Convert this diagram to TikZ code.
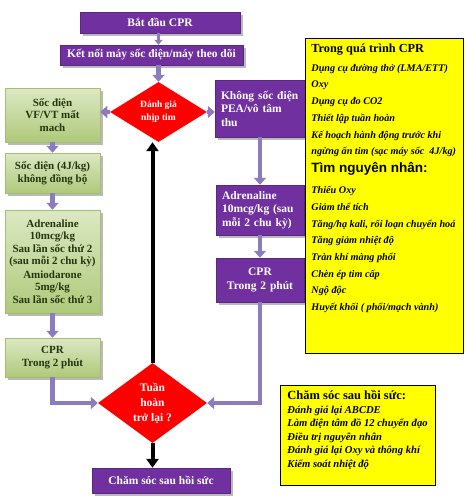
\documentclass[tikz,border=0pt]{standalone}
\usepackage{fontspec}
\setmainfont{Liberation Serif}
\newfontfamily\sansfnt{Liberation Sans}
\usetikzlibrary{arrows.meta,shapes.geometric,shadows}
\definecolor{boxpurple}{HTML}{7030A0}
\definecolor{arrowpurple}{HTML}{8C7BBF}
\definecolor{greentop}{HTML}{DCE8C3}
\definecolor{greenbottom}{HTML}{AFC97A}
\definecolor{greenedge}{HTML}{A3BF73}
\definecolor{greentext}{HTML}{23370F}
\definecolor{notefill}{HTML}{FFFF00}
\definecolor{decisionred}{HTML}{FF0000}
\newcommand{\boxfont}{\fontsize{11.5}{13.5}\selectfont\bfseries}
\newcommand{\greenfont}{\fontsize{11}{12.5}\selectfont\bfseries}
\newcommand{\listfont}{\fontsize{10.2}{16.7}\selectfont\bfseries\itshape}
\newcommand{\carefont}{\fontsize{10.6}{13.6}\selectfont\bfseries\itshape}
\tikzset{
  boxshadow/.style={drop shadow={shadow xshift=2.5pt, shadow yshift=-2.5pt, fill=black!45, opacity=0.6}},
  purplebox/.style={fill=boxpurple, draw=boxpurple!80!black, line width=0.4pt, text=white,
    font=\boxfont, inner sep=0pt, boxshadow},
  greenbox/.style={top color=greentop, bottom color=greenbottom, draw=greenedge, line width=0.5pt,
    text=greentext, font=\greenfont, align=center, inner sep=0pt, boxshadow},
  decision/.style={diamond, fill=decisionred, text=white, align=center, inner sep=0pt},
  notebox/.style={fill=notefill, draw=black, line width=0.9pt, inner xsep=6pt, inner ysep=5pt},
  flowarrow/.style={draw=arrowpurple, line width=4.5pt, -{Triangle[length=7pt,width=12pt]}},
  backarrow/.style={draw=black, line width=4pt, -{Triangle[length=9pt,width=12pt]}}
}
\begin{document}
\begin{tikzpicture}[x=1pt, y=-1pt]
  \useasboundingbox (0,0) rectangle (466,504);

  \node[purplebox, minimum width=160pt, minimum height=21pt] (start) at (160,22.5) {Bắt đầu CPR};
  \node[purplebox, minimum width=183pt, minimum height=20pt] (monitor) at (151.5,55) {Kết nối máy sốc điện/máy theo dõi};
  \node[decision, font=\fontsize{9.5}{13}\selectfont\bfseries, minimum width=97pt, minimum height=60pt]
    (rhythm) at (158.5,112) {Đánh giá\\nhịp tim};

  \node[greenbox, minimum width=95pt, minimum height=54pt] (shockable) at (52.5,115) {Sốc điện\\VF/VT mất\\mach};
  \node[greenbox, minimum width=95pt, minimum height=40pt] (defib) at (52.5,173) {Sốc điện (4J/kg)\\không đồng bộ};
  \node[greenbox, minimum width=95pt, minimum height=103pt] (drugs) at (52.5,261.5)
    {Adrenaline\\10mcg/kg\\Sau lần sốc thứ 2\\(sau mỗi 2 chu kỳ)\\[1pt]Amiodarone\\5mg/kg\\Sau lần sốc thứ 3};
  \node[greenbox, minimum width=95pt, minimum height=39pt] (cprleft) at (52.5,357.5) {CPR\\Trong 2 phút};

  \node[purplebox, minimum height=57pt, text width=78pt, inner xsep=6pt, align=left]
    (nonshock) at (260,108.5) {Không sốc điện\\PEA/vô tâm\\thu};
  \node[purplebox, minimum height=50pt, text width=76pt, inner xsep=6pt, align=left]
    (adrright) at (260,210) {Adrenaline\\10mcg/kg (sau\\mỗi 2 chu kỳ)};
  \node[purplebox, minimum height=44pt, text width=76pt, inner xsep=6pt, align=center]
    (cprright) at (260,280) {CPR\\Trong 2 phút};

  \node[decision, font=\fontsize{11.5}{15}\selectfont\bfseries, minimum width=109pt, minimum height=80pt]
    (rosc) at (152.5,403) {Tuần\\hoàn\\trở lại ?};
  \node[purplebox, minimum width=138pt, minimum height=25pt] (post) at (161,480.5) {Chăm sóc sau hồi sức};

  \node[notebox, anchor=north west] (during) at (305,38)
    {\parbox[c][305pt][t]{146pt}{\raggedright
      {\fontsize{12.3}{14}\selectfont\bfseries Trong quá trình CPR}\par\vspace{2.5pt}
      {\listfont Dụng cụ đường thở (LMA/ETT)\\Oxy\\Dụng cụ đo CO2\\Thiết lập tuần hoàn\\
        Kế hoạch hành động trước khi\\\mbox{ngừng ấn tim (sạc máy sốc~ 4J/kg)}\par}\vspace{5pt}
      {\sansfnt\fontsize{13.5}{16}\selectfont\bfseries Tìm nguyên nhân:}\par\vspace{4pt}
      {\listfont Thiếu Oxy\\Giảm thể tích\\\mbox{Tăng/hạ kali, rối loạn chuyển hoá}\\Tăng giảm nhiệt độ\\
        Tràn khí màng phổi\\Chèn ép tim cấp\\Ngộ độc\\Huyết khối ( phổi/mạch vành)\par}}};
  \node[notebox, anchor=north west, inner xsep=7pt] (postcare) at (280,385)
    {\parbox[c][90pt][t]{141pt}{\raggedright
      {\fontsize{12.5}{14}\selectfont\bfseries Chăm sóc sau hồi sức:}\par
      {\carefont Đánh giá lại ABCDE\\Làm điện tâm đồ 12 chuyển đạo\\Điều trị nguyên nhân\\
        Đánh giá lại Oxy và thông khí\\Kiểm soát nhiệt độ\par}}};

  \draw[flowarrow, line width=3pt, -{Triangle[length=5pt,width=8pt]}]
    (start.south -| rhythm.north) -- (monitor.north -| rhythm.north);
  \draw[flowarrow] (monitor.south -| rhythm.north) -- (rhythm.north);
  \draw[flowarrow] (rhythm.west) -- (rhythm.west -| shockable.east);
  \draw[flowarrow] (rhythm.east) -- (rhythm.east -| nonshock.west);
  \draw[flowarrow] (shockable.south) -- (defib.north);
  \draw[flowarrow] (defib.south) -- (drugs.north);
  \draw[flowarrow] (drugs.south) -- (cprleft.north);
  \draw[flowarrow] (cprleft.south) |- (rosc.west);
  \draw[flowarrow] (nonshock.south) -- (adrright.north);
  \draw[flowarrow] (adrright.south) -- (cprright.north);
  \draw[flowarrow] (cprright.south) |- (rosc.east);
  \draw[backarrow] (rosc.south) -- (rosc.south |- post.north);
  \draw[backarrow] (rosc.north) -- (rosc.north |- rhythm.south);
\end{tikzpicture}
\end{document}
